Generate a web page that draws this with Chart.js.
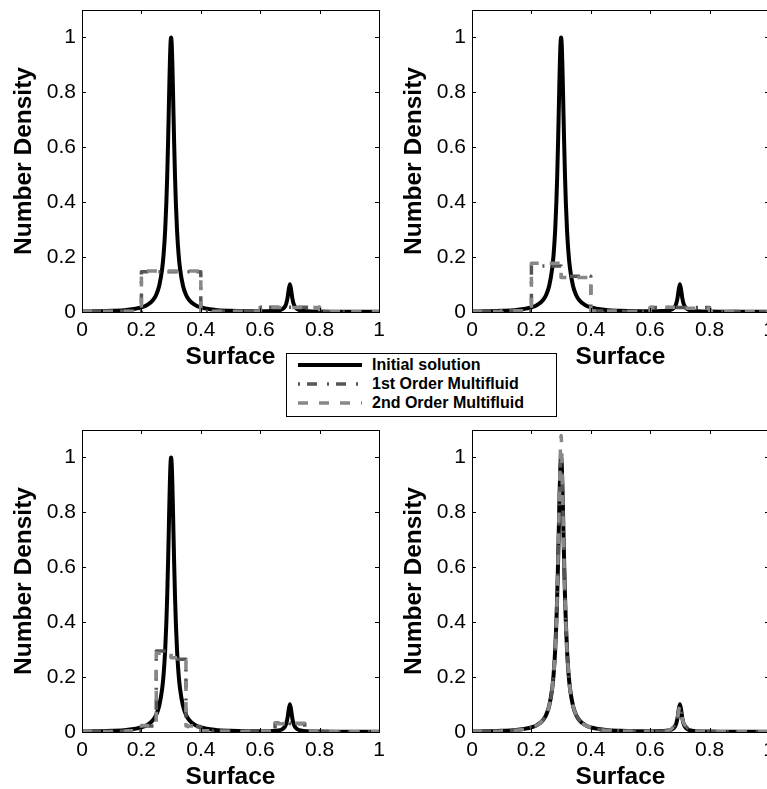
<!DOCTYPE html>
<html>
<head>
<meta charset="utf-8">
<title>Number density vs surface</title>
<script src="https://cdn.jsdelivr.net/npm/chart.js@4.4.1/dist/chart.umd.min.js"></script>
<style>
  html, body { margin: 0; padding: 0; background: #fff; width: 767px; height: 789px; overflow: hidden; }
  canvas { position: absolute; }
  #legend { position: absolute; left: 286px; top: 353px; width: 269px; height: 62px; border: 1px solid #000;
            background: #fff; font: bold 16px "Liberation Sans", Arial, sans-serif; color: #000; z-index: 5; }
  .row { position: absolute; left: 0; width: 269px; height: 18px; }
  .row svg { position: absolute; left: 11px; top: 5px; }
  .row span { position: absolute; left: 85px; top: 0; line-height: 18px; white-space: nowrap; }
</style>
</head>
<body>
<canvas id="c1" width="390" height="380" style="left:0;top:0"></canvas>
<canvas id="c2" width="390" height="380" style="left:390px;top:0"></canvas>
<canvas id="c3" width="390" height="380" style="left:0;top:420px"></canvas>
<canvas id="c4" width="390" height="380" style="left:390px;top:420px"></canvas>
<div id="legend"></div>
<script>
// axis ticks
const xTicks = [0, 0.2, 0.4, 0.6, 0.8, 1];
const xTickLabels = ['0', '0.2', '0.4', '0.6', '0.8', '1'];
const yTicks = [0, 0.2, 0.4, 0.6, 0.8, 1];
const yTickLabels = ['0', '0.2', '0.4', '0.6', '0.8', '1'];
const seriesNames = ['Initial solution', '1st Order Multifluid', '2nd Order Multifluid'];

// initial solution (same curve in every panel)
const initX = [0, 0.05, 0.1, 0.15, 0.2, 0.22, 0.24, 0.25, 0.26, 0.27, 0.275, 0.28, 0.284, 0.287, 0.29,
  0.292, 0.294, 0.296, 0.298, 0.3, 0.302, 0.304, 0.306, 0.308, 0.31, 0.313, 0.316, 0.32, 0.325, 0.33,
  0.34, 0.35, 0.36, 0.38, 0.4, 0.45, 0.5, 0.55, 0.6, 0.64, 0.66, 0.676, 0.684, 0.688, 0.692,
  0.696, 0.7, 0.704, 0.708, 0.712, 0.716, 0.724, 0.74, 0.76, 0.8, 0.85, 0.9, 0.95, 1];
const initY = [0.0017, 0.0027, 0.0042, 0.0075, 0.0166, 0.0257, 0.045, 0.063, 0.0955, 0.158, 0.213, 0.297, 0.398, 0.5, 0.628,
  0.725, 0.824, 0.913, 0.977, 1.0, 0.977, 0.913, 0.824, 0.725, 0.628, 0.5, 0.398, 0.297, 0.213, 0.158,
  0.0955, 0.063, 0.045, 0.0257, 0.0166, 0.0075, 0.0042, 0.0027, 0.0025, 0.0035, 0.0053, 0.0113, 0.021, 0.032, 0.051,
  0.081, 0.101, 0.081, 0.051, 0.032, 0.021, 0.011, 0.0048, 0.0028, 0.0015, 0.0012, 0.001, 0.0009, 0.0008];

// top left: 5 sections (left edges + end point)
const edgesA = [0, 0.2, 0.4, 0.6, 0.8, 1];
const firstA = [0.003, 0.147, 0.003, 0.017, 0.001, 0.001];
const secondA = [0.003, 0.149, 0.003, 0.016, 0.001, 0.001];

// top right: 10 sections
const edgesB = [0, 0.1, 0.2, 0.3, 0.4, 0.5, 0.6, 0.7, 0.8, 0.9, 1];
const firstB = [0.002, 0.005, 0.168, 0.13, 0.004, 0.002, 0.016, 0.016, 0.002, 0.001, 0.001];
const secondB = [0.002, 0.005, 0.178, 0.126, 0.004, 0.002, 0.017, 0.014, 0.002, 0.001, 0.001];

// bottom left: 20 sections
const edgesC = [0, 0.05, 0.1, 0.15, 0.2, 0.25, 0.3, 0.35, 0.4, 0.45, 0.5, 0.55, 0.6, 0.65, 0.7, 0.75, 0.8, 0.85, 0.9, 0.95, 1];
const firstC = [0.002, 0.002, 0.003, 0.005, 0.022, 0.295, 0.265, 0.02, 0.005, 0.003, 0.002, 0.003, 0.004, 0.033, 0.03, 0.004, 0.002, 0.001, 0.001, 0.001, 0.001];
const secondC = [0.002, 0.002, 0.003, 0.005, 0.024, 0.287, 0.27, 0.022, 0.005, 0.003, 0.002, 0.003, 0.004, 0.03, 0.032, 0.004, 0.002, 0.001, 0.001, 0.001, 0.001];

// bottom right: fine sections, follows the initial curve
const fineX = [0, 0.1, 0.2, 0.24, 0.26, 0.27, 0.28, 0.285, 0.29, 0.295, 0.3, 0.305, 0.31, 0.315, 0.32, 0.33,
  0.34, 0.36, 0.4, 0.5, 0.6, 0.66, 0.68, 0.69, 0.7, 0.71, 0.72, 0.74, 0.8, 0.9, 1];
const firstD = [0.002, 0.004, 0.017, 0.045, 0.096, 0.158, 0.297, 0.43, 0.628, 0.87, 0.99, 0.87, 0.628, 0.43, 0.297, 0.158,
  0.096, 0.045, 0.017, 0.004, 0.0025, 0.005, 0.021, 0.04, 0.097, 0.04, 0.021, 0.005, 0.0015, 0.001, 0.0008];
const secondD = [0.002, 0.004, 0.017, 0.045, 0.096, 0.158, 0.297, 0.43, 0.64, 0.9, 1.08, 0.88, 0.62, 0.43, 0.297, 0.158,
  0.096, 0.045, 0.017, 0.004, 0.0025, 0.005, 0.021, 0.04, 0.092, 0.04, 0.021, 0.005, 0.0015, 0.001, 0.0008];

const fontFamily = '"Liberation Sans", Arial, Helvetica, sans-serif';
const styles = [
  { color: '#000000', width: 4, dash: [] },
  { color: '#555555', width: 3.5, dash: [2, 7, 10, 10] },
  { color: '#888888', width: 3.5, dash: [10, 11] }
];

// box round the plot area with small inward ticks
const framePlugin = {
  id: 'frame',
  afterDatasetsDraw(chart) {
    const ctx = chart.ctx, a = chart.chartArea, x = chart.scales.x, y = chart.scales.y;
    ctx.save();
    ctx.strokeStyle = '#000';
    ctx.lineWidth = 1;
    ctx.strokeRect(a.left + 0.5, a.top + 0.5, a.right - a.left, a.bottom - a.top);
    ctx.beginPath();
    xTicks.forEach(v => {
      const px = Math.round(x.getPixelForValue(v)) + 0.5;
      ctx.moveTo(px, a.bottom); ctx.lineTo(px, a.bottom - 4);
      ctx.moveTo(px, a.top); ctx.lineTo(px, a.top + 4);
    });
    yTicks.forEach(v => {
      const py = Math.round(y.getPixelForValue(v)) + 0.5;
      ctx.moveTo(a.left, py); ctx.lineTo(a.left + 4, py);
      ctx.moveTo(a.right, py); ctx.lineTo(a.right - 4, py);
    });
    ctx.stroke();
    ctx.restore();
  }
};

function points(xs, ys) {
  return xs.map((x, i) => ({ x: x, y: ys[i] }));
}

function makeChart(id, xs, first, second, stepped) {
  const sets = [points(initX, initY), points(xs, first), points(xs, second)];
  new Chart(document.getElementById(id), {
    type: 'line',
    data: {
      datasets: sets.map((d, i) => ({
        label: seriesNames[i],
        data: d,
        borderColor: styles[i].color,
        borderWidth: styles[i].width,
        borderDash: styles[i].dash,
        borderJoinStyle: 'round',
        order: 3 - i,
        stepped: i > 0 ? stepped : false,
        cubicInterpolationMode: 'monotone',
        pointRadius: 0,
        fill: false
      }))
    },
    options: {
      responsive: false,
      animation: false,
      devicePixelRatio: 1,
      layout: { padding: { top: 10, right: 11, left: 0, bottom: 0 } },
      plugins: { legend: { display: false }, tooltip: { enabled: false } },
      scales: {
        x: {
          type: 'linear', min: 0, max: 1,
          afterBuildTicks: s => { s.ticks = xTicks.map(v => ({ value: v })); },
          afterFit: s => { s.height = 68; s.paddingLeft = 0; s.paddingRight = 0; },
          grid: { display: false, drawTicks: false },
          border: { display: false },
          ticks: { color: '#000', padding: 6, maxRotation: 0, autoSkip: false,
                   font: { family: fontFamily, size: 21 },
                   callback: (v, i) => xTickLabels[i] },
          title: { display: true, text: 'Surface', color: '#000',
                   font: { family: fontFamily, size: 24.5, weight: 'bold' },
                   padding: { top: 0, bottom: 8 } }
        },
        y: {
          type: 'linear', min: 0, max: 1.1,
          afterBuildTicks: s => { s.ticks = yTicks.map(v => ({ value: v })); },
          afterFit: s => { s.width = 82; s.paddingTop = 0; s.paddingBottom = 0; },
          grid: { display: false, drawTicks: false },
          border: { display: false },
          ticks: { color: '#000', padding: 6, autoSkip: false,
                   font: { family: fontFamily, size: 21 },
                   callback: (v, i) => yTickLabels[i] },
          title: { display: true, text: 'Number Density', color: '#000',
                   font: { family: fontFamily, size: 24.5, weight: 'bold' },
                   padding: { top: 10, bottom: 0 } }
        }
      }
    },
    plugins: [framePlugin]
  });
}

makeChart('c1', edgesA, firstA, secondA, 'before');
makeChart('c2', edgesB, firstB, secondB, 'before');
makeChart('c3', edgesC, firstC, secondC, 'before');
makeChart('c4', fineX, firstD, secondD, false);

// shared legend
const legend = document.getElementById('legend');
const rowCenters = [11, 30, 49];
seriesNames.forEach((name, i) => {
  const row = document.createElement('div');
  row.className = 'row';
  row.style.top = (rowCenters[i] - 9) + 'px';
  const dash = styles[i].dash.length ? ' stroke-dasharray="' + styles[i].dash.join(' ') + '"' : '';
  row.innerHTML = '<svg width="64" height="8"><line x1="0" y1="4" x2="64" y2="4" stroke="' + styles[i].color +
    '" stroke-width="' + styles[i].width + '"' + dash + '/></svg><span>' + name + '</span>';
  legend.appendChild(row);
});
</script>
</body>
</html>
